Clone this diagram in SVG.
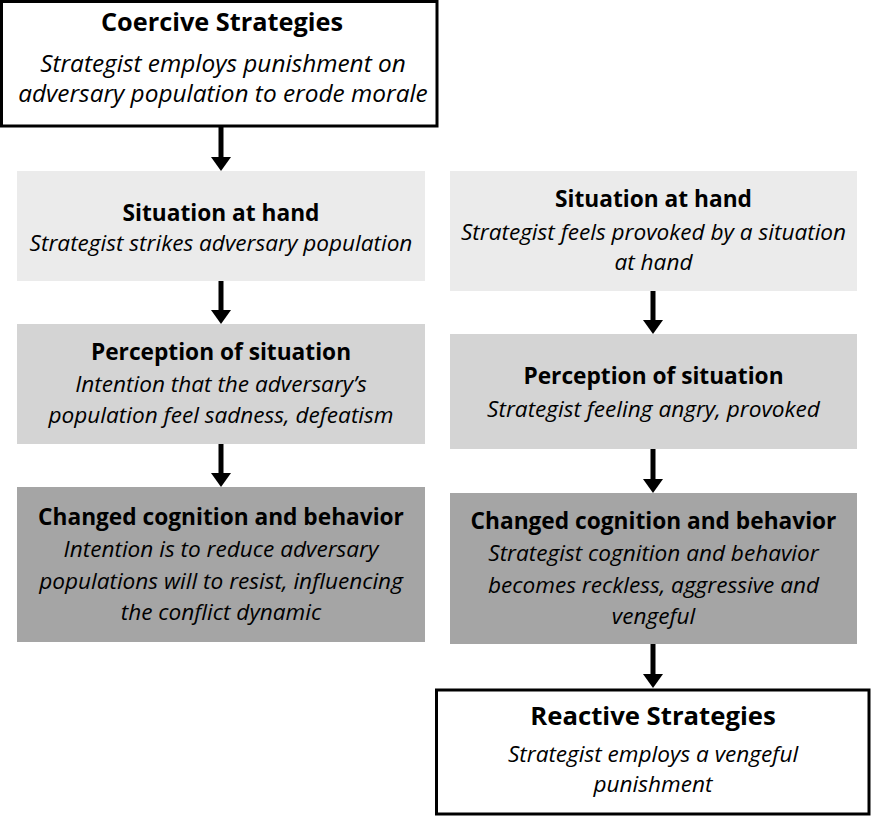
<svg xmlns="http://www.w3.org/2000/svg" width="871" height="816" viewBox="0 0 871 816">
<style>
text{font-family:"Open Sans","Liberation Sans",sans-serif;fill:#000;text-anchor:middle}
.bt{font-size:25.3px;font-weight:bold}
.rt{font-size:25.7px;font-weight:bold}
.t{font-size:22.7px;font-weight:bold}
.i{font-size:22.6px;font-style:italic}
.bi{font-size:24.4px;font-style:italic}
.frame{fill:#fff;stroke:#000;stroke-width:3}
.s1{fill:#ebebeb}
.s2{fill:#d4d4d4}
.s3{fill:#a5a5a5}
.arr{stroke:#000;stroke-width:5;fill:none;marker-end:url(#ah)}
</style>
<defs>
<marker id="ah" viewBox="0 0 14 20" refX="4" refY="10" markerWidth="14" markerHeight="20" markerUnits="userSpaceOnUse" orient="auto">
<path d="M0,0 L14,10 L0,20 Z" fill="#000"/>
</marker>
</defs>
<rect width="871" height="816" fill="#fff"/>
<g id="coercive">
<rect class="frame" x="1.5" y="1.5" width="435.5" height="124.5"/>
<text class="bt" x="222" y="31">Coercive Strategies</text>
<text class="bi" x="223" y="72">Strategist employs punishment on</text>
<text class="bi" x="223" y="102">adversary population to erode morale</text>
</g>
<g id="left-situation">
<rect class="s1" x="17" y="171" width="408" height="110"/>
<text class="t" x="221" y="220.5">Situation at hand</text>
<text class="i" x="221" y="250.5">Strategist strikes adversary population</text>
</g>
<g id="left-perception">
<rect class="s2" x="17" y="324" width="408" height="120"/>
<text class="t" x="221" y="360">Perception of situation</text>
<text class="i" x="221" y="391.5">Intention that the adversary’s</text>
<text class="i" x="221" y="423">population feel sadness, defeatism</text>
</g>
<g id="left-changed">
<rect class="s3" x="17" y="487" width="408" height="155"/>
<text class="t" x="221" y="525">Changed cognition and behavior</text>
<text class="i" x="221" y="557">Intention is to reduce adversary</text>
<text class="i" x="221" y="588.5">populations will to resist, influencing</text>
<text class="i" x="221" y="620">the conflict dynamic</text>
</g>
<g id="right-situation">
<rect class="s1" x="450" y="171" width="407" height="120"/>
<text class="t" x="653.5" y="206.5">Situation at hand</text>
<text class="i" x="653.5" y="239.5">Strategist feels provoked by a situation</text>
<text class="i" x="653.5" y="270">at hand</text>
</g>
<g id="right-perception">
<rect class="s2" x="450" y="334" width="407" height="115"/>
<text class="t" x="653.5" y="384">Perception of situation</text>
<text class="i" x="653.5" y="416.5">Strategist feeling angry, provoked</text>
</g>
<g id="right-changed">
<rect class="s3" x="450" y="493" width="407" height="151"/>
<text class="t" x="653.5" y="529">Changed cognition and behavior</text>
<text class="i" x="653.5" y="560.5">Strategist cognition and behavior</text>
<text class="i" x="653.5" y="592.5">becomes reckless, aggressive and</text>
<text class="i" x="653.5" y="624">vengeful</text>
</g>
<g id="reactive">
<rect class="frame" x="436.5" y="690" width="432.5" height="124"/>
<text class="rt" x="653" y="725">Reactive Strategies</text>
<text class="i" x="653" y="761.5">Strategist employs a vengeful</text>
<text class="i" x="653" y="791.5">punishment</text>
</g>
<g id="connectors">
<line class="arr" x1="221" y1="127" x2="221" y2="161"/>
<line class="arr" x1="221" y1="281" x2="221" y2="314"/>
<line class="arr" x1="221" y1="444" x2="221" y2="477"/>
<line class="arr" x1="653" y1="291" x2="653" y2="324"/>
<line class="arr" x1="653" y1="449" x2="653" y2="483"/>
<line class="arr" x1="653" y1="644" x2="653" y2="678"/>
</g>
</svg>
